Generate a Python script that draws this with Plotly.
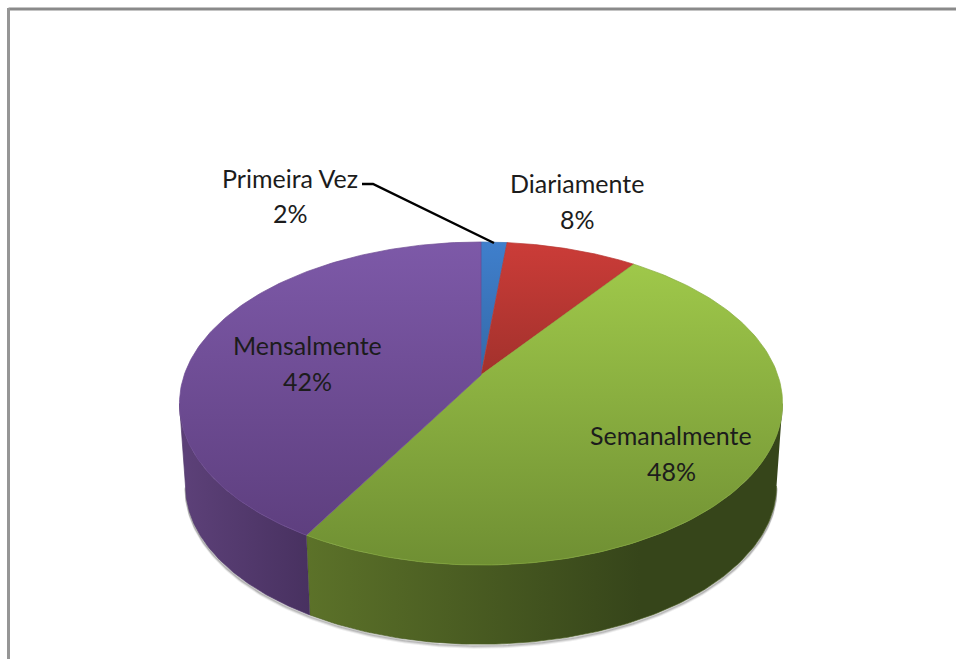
import numpy as np
import plotly.graph_objects as go
from plotly.colors import find_intermediate_color, hex_to_rgb

# valores (rotulos arredondados: 2, 8, 48, 42)
categorias = ["Primeira Vez", "Diariamente", "Semanalmente", "Mensalmente"]
valores = [1.65, 8.35, 48.3, 41.7]

# topo: (cor em cima, cor em baixo) / lateral: (esquerda, direita)
cores_topo = [("#3f7fcc", "#3569a8"), ("#cb3c38", "#a2312c"), ("#9fc84a", "#6f8f33"), ("#7d59a8", "#5e3f7f")]
cores_lado = [None, None, ("#5c7229", "#36451a"), ("#5d4179", "#483160")]
grad_lado = [None, None, (305, 640), (179, 310)]

# posicao dos rotulos
rotulo_x = [290, 577, 671, 307]
rotulo_y = [178, 183, 435, 345]
rotulo_pct_y = [213, 219, 471, 381]

# projecao do disco em perspectiva
CX, CY = 481, 375
A, B, K = 296.8, 156.5, -0.1765
ESCALA_BASE, ALTURA = 0.98, 83


def projetar(graus, escala=1.0, dy=0.0):
    t = np.radians(graus)
    u, v = np.sin(t), -np.cos(t)
    den = 1 + K * v
    return CX + escala * A * u / den, CY + dy + escala * B * v / den


def cor_media(par):
    r, g, b = find_intermediate_color(hex_to_rgb(par[0]), hex_to_rgb(par[1]), 0.5, colortype="tuple")
    return f"rgb({r:.0f},{g:.0f},{b:.0f})"


# pontos onde a borda lateral do disco fica vertical
grade = np.linspace(0, 360, 3601)
ang_dir = grade[np.argmax(projetar(grade)[0])]
ang_esq = grade[np.argmin(projetar(grade)[0])]

fig = go.Figure()

# sombra da base
ang = np.linspace(ang_dir, ang_esq, 200)
for off, alfa in [(3.5, 0.1), (2.5, 0.18), (1.5, 0.3)]:
    sx, sy = projetar(ang, ESCALA_BASE, ALTURA + off)
    fig.add_trace(go.Scatter(x=sx, y=sy, mode="lines", hoverinfo="skip",
                             line=dict(color=f"rgba(90,90,90,{alfa})", width=2)))

fim = np.cumsum(valores) / sum(valores) * 360
ini = np.concatenate([[0], fim[:-1]])

# laterais
for a0, a1, cor, grad in zip(ini, fim, cores_lado, grad_lado):
    if cor is None:
        continue
    a = np.linspace(max(a0, ang_dir), min(a1, ang_esq), 120)
    xt, yt = projetar(a)
    xb, yb = projetar(a[::-1], ESCALA_BASE, ALTURA)
    fig.add_trace(go.Scatter(
        x=np.r_[xt, xb], y=np.r_[yt, yb], mode="lines", fill="toself", hoverinfo="skip",
        line=dict(width=0.7, color=cor_media(cor)),
        fillgradient=dict(type="horizontal", start=grad[0], stop=grad[1],
                          colorscale=[[0, cor[0]], [1, cor[1]]]),
    ))

# fatias do topo
for nome, a0, a1, cor in zip(categorias, ini, fim, cores_topo):
    a = np.linspace(a0, a1, 150)
    xt, yt = projetar(a)
    fig.add_trace(go.Scatter(
        x=np.r_[CX, xt, CX], y=np.r_[CY, yt, CY], mode="lines", fill="toself", name=nome,
        line=dict(width=0.7, color=cor_media(cor)),
        fillgradient=dict(type="vertical", start=float(yt.min()),
                          stop=float(max(yt.max(), CY)),
                          colorscale=[[0, cor[0]], [1, cor[1]]]),
    ))

# linha de chamada da Primeira Vez
fig.add_trace(go.Scatter(x=[362, 373, 494], y=[184, 184, 243], mode="lines", hoverinfo="skip",
                         line=dict(color="#000000", width=2.5)))

for nome, v, x, y, yp in zip(categorias, valores, rotulo_x, rotulo_y, rotulo_pct_y):
    fig.add_annotation(x=x, y=y, text=nome, showarrow=False)
    fig.add_annotation(x=x, y=yp, text=f"{round(v)}%", showarrow=False)

# moldura do grafico (sem lado direito)
fig.add_shape(type="line", x0=8.5, x1=956, y0=9, y1=9, line=dict(color="#8a8a8a", width=3))
fig.add_shape(type="line", x0=8.5, x1=8.5, y0=8, y1=659, line=dict(color="#969696", width=3))

fig.update_xaxes(range=[0, 956], visible=False, fixedrange=True)
fig.update_yaxes(range=[659, 0], visible=False, fixedrange=True)
fig.update_annotations(font=dict(family="Lato", size=25, color="#1c1c1c"))
fig.update_layout(
    width=956, height=659, margin=dict(l=0, r=0, t=0, b=0),
    plot_bgcolor="white", paper_bgcolor="white", showlegend=False,
)
fig.write_html("out.html", config=dict(displayModeBar=False),
               post_script="document.body.style.margin='0';")
